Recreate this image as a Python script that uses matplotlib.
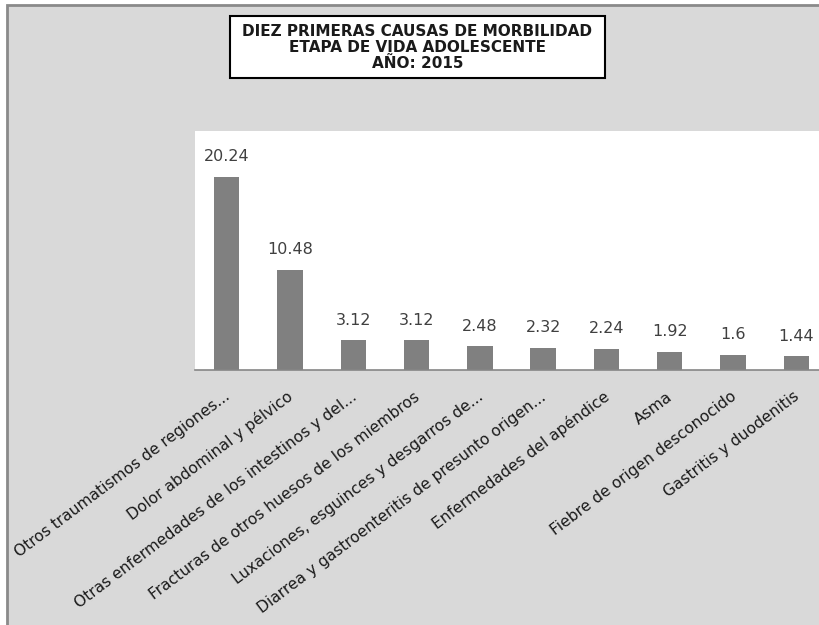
import matplotlib
matplotlib.use("Agg")
import matplotlib.pyplot as plt
from matplotlib.patches import Rectangle

categories = [
    "Otros traumatismos de regiones...",
    "Dolor abdominal y pélvico",
    "Otras enfermedades de los intestinos y del...",
    "Fracturas de otros huesos de los miembros",
    "Luxaciones, esguinces y desgarros de...",
    "Diarrea y gastroenteritis de presunto origen...",
    "Enfermedades del apéndice",
    "Asma",
    "Fiebre de origen desconocido",
    "Gastritis y duodenitis",
]
values = [20.24, 10.48, 3.12, 3.12, 2.48, 2.32, 2.24, 1.92, 1.6, 1.44]
value_labels = ["20.24", "10.48", "3.12", "3.12", "2.48", "2.32", "2.24", "1.92", "1.6", "1.44"]
title_lines = ["DIEZ PRIMERAS CAUSAS DE MORBILIDAD", "ETAPA DE VIDA ADOLESCENTE", "AÑO: 2015"]

W, H = 820, 625
fig = plt.figure(figsize=(W / 100, H / 100), dpi=100)
fig.patch.set_facecolor("white")

# chart area background with border (top/left visible)
fig.add_artist(Rectangle((7 / W, -0.1), 1.2, 1 - 5 / H + 0.1, transform=fig.transFigure,
                         facecolor="#d9d9d9", edgecolor="#8a8a8a", linewidth=2, zorder=0))

ax = fig.add_axes([195 / W, 1 - 370 / H, 633 / W, 239 / H])
ax.set_facecolor("white")
x = list(range(len(categories)))
ax.bar(x, values, width=0.4, color="#808080", zorder=2)
ax.set_xlim(-0.5, len(categories) - 0.5)
ax.set_ylim(0, 25)
for s in ["top", "right", "left"]:
    ax.spines[s].set_visible(False)
ax.spines["bottom"].set_color("#868686")
ax.spines["bottom"].set_linewidth(1.2)
ax.set_yticks([])
ax.set_xticks([])

for i, (v, lab) in enumerate(zip(values, value_labels)):
    ax.annotate(lab, xy=(i, v), xytext=(0, 9), textcoords="offset points",
                ha="center", va="bottom", fontsize=11.5, color="#404040",
                family="DejaVu Sans", annotation_clip=False)

for i, c in enumerate(categories):
    ax.annotate(c, xy=(i, 0), xycoords=("data", "axes fraction"),
                xytext=(1, -18), textcoords="offset points",
                ha="right", va="center", rotation=37, rotation_mode="anchor",
                fontsize=11.2, color="#1a1a1a", family="DejaVu Sans",
                annotation_clip=False)

# title box
fig.add_artist(Rectangle((230 / W, 1 - 78 / H), 375 / W, 62 / H, transform=fig.transFigure,
                         facecolor="white", edgecolor="black", linewidth=1.5, zorder=3))
fig.text(417.5 / W, 1 - 47.5 / H, "\n".join(title_lines), ha="center", va="center",
         fontsize=11, fontweight="bold", family="DejaVu Sans", color="#1a1a1a",
         linespacing=1.1, zorder=4)

fig.savefig("out.png", dpi=100)
